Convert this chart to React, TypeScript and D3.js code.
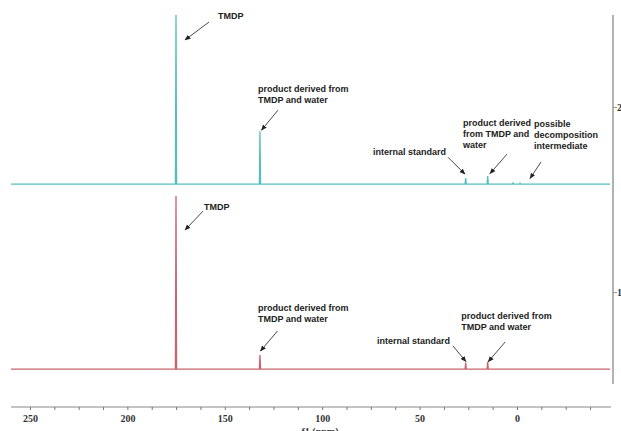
import React from "react";
import * as d3 from "d3";

// ---- data ----
const spectrumIds = [2, 1];
const spectrumColors = ["#55bdbd", "#c8646e"];
// peaks: chemical shift (ppm) and intensity (in stacked-axis units)
const tealPeakPpm = [175.3, 132.2, 26.6, 15.3, 2.3, -1.3];
const tealPeakHeight = [0.914, 0.286, 0.032, 0.043, 0.006, 0.005];
const redPeakPpm = [175.3, 132.2, 26.6, 15.3];
const redPeakHeight = [0.935, 0.076, 0.035, 0.04];
const baselineOffset = -0.414;
const xTicksMajor = [250, 200, 150, 100, 50, 0];
const xTicksMinor = [250, 237.5, 225, 212.5, 200, 187.5, 175, 162.5, 150, 137.5, 125, 112.5, 100, 87.5, 75, 62.5, 50, 37.5, 25, 12.5, 0, -12.5, -25, -37.5];
const xDomain = [260, -48];
const yDomain = [0.5, 2.5];
const xTitle = "f1 (ppm)";

// annotations: spectrum index, peak index, text lines
const annSpectrum = [0, 0, 0, 0, 0, 1, 1, 1, 1];
const annPeak = [0, 1, 2, 3, 4, 0, 1, 2, 3];
const annText = [
  ["TMDP"],
  ["product derived from", "TMDP and water"],
  ["internal standard"],
  ["product derived", "from TMDP and", "water"],
  ["possible", "decomposition", "intermediate"],
  ["TMDP"],
  ["product derived from", "TMDP and water"],
  ["internal standard"],
  ["product derived from", "TMDP and water"],
];
// layout (pixels): arrow tip relative to peak top, arrow start and text relative to tip
const annLayout = [
  { dx: 9, dy: 25, sx: 24, sy: -18, tx: 33, ty: -21 },
  { dx: 1.5, dy: -1, sx: 16.5, sy: -20, tx: -3.5, ty: -38 },
  { dx: -0.7, dy: -4, sx: -17, sy: -17, tx: -92, ty: -19 },
  { dx: 2.3, dy: -2.5, sx: 17, sy: -19.5, tx: -27, ty: -47.5 },
  { dx: 17, dy: -4.5, sx: 11, sy: -16.5, tx: 4, ty: -51 },
  { dx: 9, dy: 34, sx: 18, sy: -19, tx: 19, ty: -20 },
  { dx: 0.5, dy: -4, sx: 17, sy: -20, tx: -2.5, ty: -40 },
  { dx: 0.3, dy: -1, sx: -13, sy: -15.7, tx: -89, ty: -17.7 },
  { dx: 0.5, dy: 0, sx: 17, sy: -19.7, tx: -27, ty: -42.7 },
];

const W = 621;
const H = 431;

export default function App() {
  const x = d3.scaleLinear().domain(xDomain).range([11, 611]);
  const y = d3.scaleLinear().domain(yDomain).range([385, 15]);
  const halfW = 0.3;

  const spectra = [
    { ppm: tealPeakPpm, h: tealPeakHeight },
    { ppm: redPeakPpm, h: redPeakHeight },
  ];

  const line = d3
    .line<[number, number]>()
    .x((d) => x(d[0]))
    .y((d) => y(d[1]));

  const paths = spectra.map((s, i) => {
    const base = spectrumIds[i] + baselineOffset;
    const pts: [number, number][] = [[xDomain[0], base]];
    const order = d3.range(s.ppm.length).sort((a, b) => s.ppm[b] - s.ppm[a]);
    order.forEach((k) => {
      pts.push([s.ppm[k] + halfW, base]);
      pts.push([s.ppm[k], base + s.h[k]]);
      pts.push([s.ppm[k] - halfW, base]);
    });
    pts.push([xDomain[1] + 0.5, base]);
    return line(pts) || "";
  });

  const annFont = "'Liberation Sans', Arial, sans-serif";
  const axFont = "'Liberation Serif', 'DejaVu Serif', serif";

  return (
    <svg
      width={W}
      height={H}
      style={{ position: "absolute", left: 0, top: 0, background: "#fff" }}
    >
      <defs>
        <marker
          id="ah"
          viewBox="0 0 10 10"
          refX="9"
          refY="5"
          markerWidth="6"
          markerHeight="6"
          orient="auto"
          markerUnits="userSpaceOnUse"
        >
          <path d="M0,1 L10,5 L0,9 z" fill="#222" />
        </marker>
      </defs>

      {paths.map((d, i) => (
        <path key={i} d={d} fill="none" stroke={spectrumColors[i]} strokeWidth={1.3} />
      ))}

      {/* right stacked axis */}
      <line x1={613} x2={613} y1={15} y2={384} stroke="#999" strokeWidth={1.5} />
      {spectrumIds.map((id) => (
        <g key={id}>
          <line x1={613} x2={617} y1={y(id)} y2={y(id)} stroke="#999" strokeWidth={1} />
          <text
            x={617}
            y={y(id) + 3.5}
            fontFamily={axFont}
            fontWeight="bold"
            fontSize={10}
            fill="#333"
          >
            {id}
          </text>
        </g>
      ))}

      {/* x axis */}
      <line x1={11} x2={611} y1={407} y2={407} stroke="#888" strokeWidth={1.2} />
      {xTicksMinor.map((t) => (
        <line key={t} x1={x(t)} x2={x(t)} y1={407} y2={410} stroke="#777" strokeWidth={1} />
      ))}
      {xTicksMajor.map((t) => (
        <text
          key={t}
          x={x(t)}
          y={422}
          textAnchor="middle"
          fontFamily={axFont}
          fontWeight="bold"
          fontSize={10}
          fill="#333"
        >
          {t}
        </text>
      ))}
      <text
        x={320}
        y={435}
        textAnchor="middle"
        fontFamily={axFont}
        fontWeight="bold"
        fontSize={10}
        fill="#333"
      >
        {xTitle}
      </text>

      {/* annotations */}
      {annText.map((lines, i) => {
        const s = spectra[annSpectrum[i]];
        const k = annPeak[i];
        const base = spectrumIds[annSpectrum[i]] + baselineOffset;
        const L = annLayout[i];
        const tipX = x(s.ppm[k]) + L.dx;
        const tipY = y(base + s.h[k]) + L.dy;
        return (
          <g key={i}>
            <line
              x1={tipX + L.sx}
              y1={tipY + L.sy}
              x2={tipX}
              y2={tipY}
              stroke="#333"
              strokeWidth={0.9}
              markerEnd="url(#ah)"
            />
            {lines.map((ln, j) => (
              <text
                key={j}
                x={tipX + L.tx}
                y={tipY + L.ty + j * 11}
                fontFamily={annFont}
                fontWeight="bold"
                fontSize={9}
                fill="#222"
              >
                {ln}
              </text>
            ))}
          </g>
        );
      })}
    </svg>
  );
}
